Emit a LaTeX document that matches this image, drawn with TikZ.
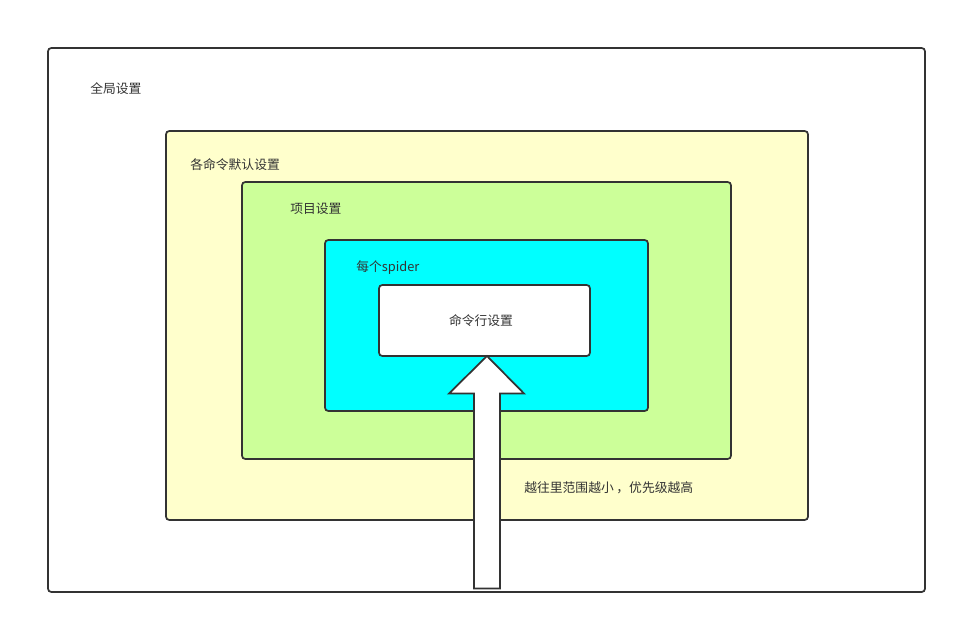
\documentclass[tikz,border=0pt]{standalone}
\usepackage{fontspec}
\setmainfont{Noto Sans CJK SC}
\usepackage{xcolor}
\usetikzlibrary{positioning,calc}
\definecolor{ink}{HTML}{333333}
\definecolor{paleyellow}{HTML}{FFFFCC}
\definecolor{palegreen}{HTML}{CCFF99}
\definecolor{aqua}{HTML}{00FFFF}

\begin{document}
\begin{tikzpicture}[
  x=0.75pt, y=-0.75pt,
  font=\fontsize{9.6pt}{11pt}\selectfont, text=ink,
  layer/.style={draw=ink, line width=1.3pt, rounded corners=2.5pt,
                inner sep=0pt, outer sep=0pt},
  tag/.style={anchor=west, inner sep=0pt, text=ink},
  bigarrow/.style={draw=ink, line width=1.3pt, fill=white, line join=miter}
]

\useasboundingbox (0,0) rectangle (957,625);

% ---- nested scopes ------------------------------------------------------
\node[layer, fill=white,      minimum width=877*0.75pt, minimum height=544*0.75pt] (glob) at (486.5,320)   {};
\node[layer, fill=paleyellow, minimum width=642*0.75pt, minimum height=389*0.75pt] (cmds) at (487,325.5)   {};
\node[layer, fill=palegreen,  minimum width=489*0.75pt, minimum height=277*0.75pt] (proj) at (486.5,320.5) {};
\node[layer, fill=aqua,       minimum width=323*0.75pt, minimum height=171*0.75pt] (spdr) at (486.5,325.5) {};
\node[layer, fill=white,      minimum width=211*0.75pt, minimum height=71*0.75pt]  (cli)  at (484.5,320.5) {};
\node[inner sep=0pt] (clilbl) at (481,321) {命令行设置};

% ---- labels -------------------------------------------------------------
\node[tag] (globlbl) at (90,88.5)  {全局设置};
\node[tag] (cmdslbl) at (190,164.5) {各命令默认设置};
\node[tag] (projlbl) at (290,208.5) {项目设置};
\node[tag] (spdrlbl) at (356,267.5) {每个spider};
\node[tag] (note)    at (524,487.5) {越往里范围越小\hspace{0.2em}，优先级越高};

% ---- priority arrow -----------------------------------------------------
\draw[bigarrow] (487,356) -- (524,393.5) -- (500,393.5) -- (500,588.5)
  -- (474,588.5) -- (474,393.5) -- (449,393.5) -- cycle;

\end{tikzpicture}
\end{document}
